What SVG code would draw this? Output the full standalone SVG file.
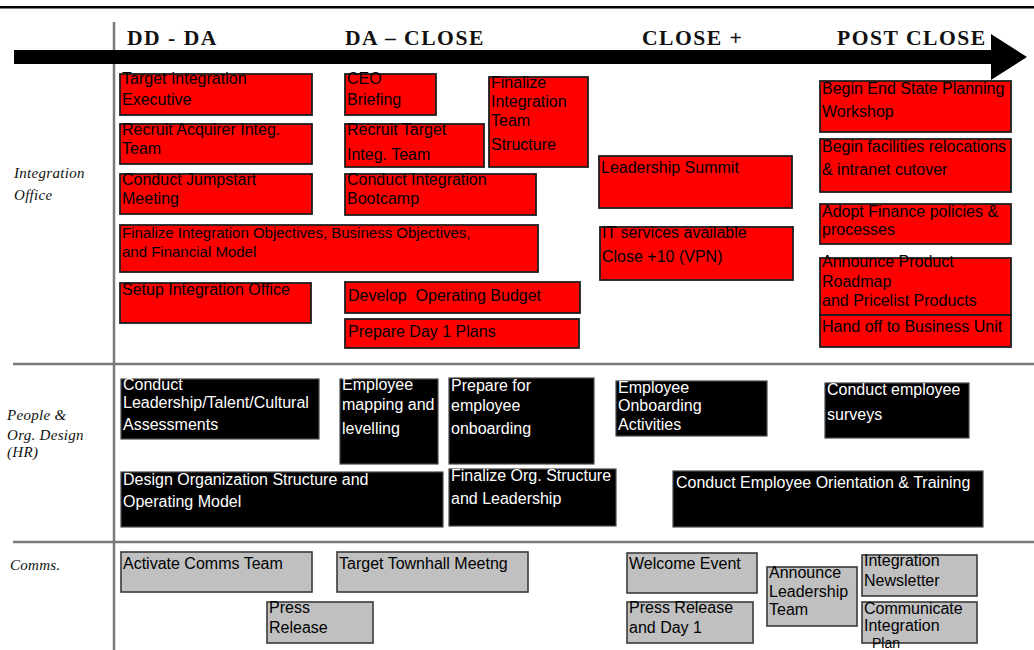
<svg xmlns="http://www.w3.org/2000/svg" width="1034" height="650" viewBox="0 0 1034 650">
  <style>
    .red { fill: #ff0000; stroke: #1e1e1e; stroke-width: 1.8; }
    .blk { fill: #000000; stroke: #4a4a4a; stroke-width: 1.2; }
    .gry { fill: #c0c0c0; stroke: #3a3a3a; stroke-width: 1.6; }
    .t { font-family: "Liberation Sans", Arial, sans-serif; font-size: 16px; fill: #000; white-space: pre; }
    .tw { font-family: "Liberation Sans", Arial, sans-serif; font-size: 16px; fill: #fff; white-space: pre; }
    .hdr { font-family: "Liberation Serif", "Times New Roman", serif; font-weight: bold; font-size: 21.6px; letter-spacing: 1.5px; fill: #111; }
    .lane { font-family: "Liberation Serif", "Times New Roman", serif; font-style: italic; font-size: 15px; letter-spacing: 0.3px; fill: #111; }
    .rule { stroke: #7a7a7a; stroke-width: 2.5; fill: none; }
  </style>

  <rect x="0" y="0" width="1034" height="650" fill="#ffffff"/>

  <!-- page rule under the heading -->
  <rect x="0" y="6" width="1034" height="2.5" fill="#000"/>

  <!-- swimlane grid -->
  <g id="grid">
    <line class="rule" x1="114" y1="22" x2="114" y2="650"/>
    <line class="rule" x1="13" y1="364" x2="1034" y2="364"/>
    <line class="rule" x1="13" y1="542" x2="1034" y2="542"/>
  </g>

  <!-- phase headings -->
  <g id="phases">
    <text class="hdr" x="127" y="45">DD - DA</text>
    <text class="hdr" x="345" y="45">DA – CLOSE</text>
    <text class="hdr" x="642" y="45">CLOSE +</text>
    <text class="hdr" x="837" y="45">POST CLOSE</text>
  </g>

  <!-- timeline arrow -->
  <g id="connectors">
    <rect x="14" y="50" width="978" height="14" fill="#000"/>
    <polygon points="991,34 1027,57 991,80" fill="#000"/>
  </g>

  <!-- lane labels -->
  <g id="lanes">
    <text class="lane" x="14" y="178">Integration</text>
    <text class="lane" x="14" y="200">Office</text>
    <text class="lane" x="7" y="420">People &amp;</text>
    <text class="lane" x="7" y="440">Org. Design</text>
    <text class="lane" x="7" y="457">(HR)</text>
    <text class="lane" x="10" y="570">Comms.</text>
  </g>

  <!-- Integration Office -->
  <g id="io-target-exec">
    <rect class="red" x="120" y="74" width="192" height="41"/>
    <text class="t" x="122" y="84">Target Integration</text>
    <text class="t" x="122" y="105">Executive</text>
  </g>
  <g id="io-ceo">
    <rect class="red" x="345" y="74" width="91" height="41"/>
    <text class="t" x="347" y="84">CEO</text>
    <text class="t" x="347" y="105">Briefing</text>
  </g>
  <g id="io-team-structure">
    <rect class="red" x="489" y="77" width="99" height="90"/>
    <text class="t" x="491" y="88">Finalize</text>
    <text class="t" x="491" y="107">Integration</text>
    <text class="t" x="491" y="126">Team</text>
    <text class="t" x="491" y="150">Structure</text>
  </g>
  <g id="io-recruit-acq">
    <rect class="red" x="120" y="124" width="192" height="40"/>
    <text class="t" x="122" y="135">Recruit Acquirer Integ.</text>
    <text class="t" x="122" y="154">Team</text>
  </g>
  <g id="io-recruit-tgt">
    <rect class="red" x="345" y="124" width="139" height="43"/>
    <text class="t" x="347" y="135">Recruit Target</text>
    <text class="t" x="347" y="160">Integ. Team</text>
  </g>
  <g id="io-jumpstart">
    <rect class="red" x="120" y="174" width="192" height="40"/>
    <text class="t" x="122" y="185">Conduct Jumpstart</text>
    <text class="t" x="122" y="204">Meeting</text>
  </g>
  <g id="io-bootcamp">
    <rect class="red" x="345" y="174" width="191" height="41"/>
    <text class="t" x="347" y="185">Conduct Integration</text>
    <text class="t" x="347" y="204">Bootcamp</text>
  </g>
  <g id="io-objectives">
    <rect class="red" x="120" y="225" width="418" height="47"/>
    <text class="t" x="122" y="238" style="font-size:15px">Finalize Integration Objectives, Business Objectives,</text>
    <text class="t" x="122" y="257" style="font-size:15px">and Financial Model</text>
  </g>
  <g id="io-setup">
    <rect class="red" x="120" y="283" width="191" height="40"/>
    <text class="t" x="122" y="295">Setup Integration Office</text>
  </g>
  <g id="io-budget">
    <rect class="red" x="345" y="282" width="235" height="31"/>
    <text class="t" x="348" y="301">Develop  Operating Budget</text>
  </g>
  <g id="io-day1">
    <rect class="red" x="345" y="319" width="234" height="29"/>
    <text class="t" x="348" y="337">Prepare Day 1 Plans</text>
  </g>
  <g id="io-summit">
    <rect class="red" x="599" y="156" width="193" height="52"/>
    <text class="t" x="601" y="173">Leadership Summit</text>
  </g>
  <g id="io-it">
    <rect class="red" x="600" y="227" width="193" height="53"/>
    <text class="t" x="602" y="238">IT services available</text>
    <text class="t" x="602" y="262">Close +10 (VPN)</text>
  </g>
  <g id="io-endstate">
    <rect class="red" x="820" y="81" width="191" height="51"/>
    <text class="t" x="822" y="94">Begin End State Planning</text>
    <text class="t" x="822" y="117">Workshop</text>
  </g>
  <g id="io-facilities">
    <rect class="red" x="820" y="139" width="191" height="53"/>
    <text class="t" x="822" y="152">Begin facilities relocations</text>
    <text class="t" x="822" y="175">&amp; intranet cutover</text>
  </g>
  <g id="io-finance">
    <rect class="red" x="820" y="204" width="191" height="40"/>
    <text class="t" x="822" y="217">Adopt Finance policies &amp;</text>
    <text class="t" x="822" y="235">processes</text>
  </g>
  <g id="io-roadmap">
    <rect class="red" x="820" y="258" width="191" height="57"/>
    <text class="t" x="822" y="267">Announce Product</text>
    <text class="t" x="822" y="287">Roadmap</text>
    <text class="t" x="822" y="306">and Pricelist Products</text>
  </g>
  <g id="io-handoff">
    <rect class="red" x="820" y="315" width="191" height="32"/>
    <text class="t" x="822" y="332">Hand off to Business Unit</text>
  </g>

  <!-- People & Org. Design (HR) -->
  <g id="hr-assess">
    <rect class="blk" x="121" y="379" width="198" height="60"/>
    <text class="tw" x="123" y="390">Conduct</text>
    <text class="tw" x="123" y="408">Leadership/Talent/Cultural</text>
    <text class="tw" x="123" y="430">Assessments</text>
  </g>
  <g id="hr-mapping">
    <rect class="blk" x="340" y="379" width="98" height="85"/>
    <text class="tw" x="342" y="390">Employee</text>
    <text class="tw" x="342" y="410">mapping and</text>
    <text class="tw" x="342" y="434">levelling</text>
  </g>
  <g id="hr-design">
    <rect class="blk" x="121" y="472" width="322" height="55"/>
    <text class="tw" x="123" y="485">Design Organization Structure and</text>
    <text class="tw" x="123" y="507">Operating Model</text>
  </g>
  <g id="hr-prepare">
    <rect class="blk" x="449" y="378" width="145" height="86"/>
    <text class="tw" x="451" y="391">Prepare for</text>
    <text class="tw" x="451" y="411">employee</text>
    <text class="tw" x="451" y="434">onboarding</text>
  </g>
  <g id="hr-onboarding">
    <rect class="blk" x="616" y="381" width="151" height="55"/>
    <text class="tw" x="618" y="393">Employee</text>
    <text class="tw" x="618" y="411">Onboarding</text>
    <text class="tw" x="618" y="430">Activities</text>
  </g>
  <g id="hr-surveys">
    <rect class="blk" x="825" y="383" width="144" height="55"/>
    <text class="tw" x="827" y="395">Conduct employee</text>
    <text class="tw" x="827" y="420">surveys</text>
  </g>
  <g id="hr-finalize-org">
    <rect class="blk" x="449" y="469" width="167" height="57"/>
    <text class="tw" x="451" y="481">Finalize Org. Structure</text>
    <text class="tw" x="451" y="504">and Leadership</text>
  </g>
  <g id="hr-orientation">
    <rect class="blk" x="673" y="471" width="310" height="56"/>
    <text class="tw" x="676" y="488">Conduct Employee Orientation &amp; Training</text>
  </g>

  <!-- Comms. -->
  <g id="cm-activate">
    <rect class="gry" x="121" y="552" width="191" height="40"/>
    <text class="t" x="123" y="569">Activate Comms Team</text>
  </g>
  <g id="cm-townhall">
    <rect class="gry" x="337" y="552" width="191" height="40"/>
    <text class="t" x="339" y="569">Target Townhall Meetng</text>
  </g>
  <g id="cm-press">
    <rect class="gry" x="267" y="602" width="106" height="41"/>
    <text class="t" x="269" y="613">Press</text>
    <text class="t" x="269" y="633">Release</text>
  </g>
  <g id="cm-welcome">
    <rect class="gry" x="627" y="553" width="130" height="40"/>
    <text class="t" x="629" y="569">Welcome Event</text>
  </g>
  <g id="cm-press-day1">
    <rect class="gry" x="627" y="602" width="126" height="41"/>
    <text class="t" x="629" y="613">Press Release</text>
    <text class="t" x="629" y="633">and Day 1</text>
  </g>
  <g id="cm-announce">
    <rect class="gry" x="767" y="567" width="90" height="59"/>
    <text class="t" x="769" y="578">Announce</text>
    <text class="t" x="769" y="597">Leadership</text>
    <text class="t" x="769" y="615">Team</text>
  </g>
  <g id="cm-newsletter">
    <rect class="gry" x="862" y="555" width="115" height="41"/>
    <text class="t" x="864" y="566">Integration</text>
    <text class="t" x="864" y="586">Newsletter</text>
  </g>
  <g id="cm-communicate">
    <rect class="gry" x="862" y="602" width="115" height="41"/>
    <text class="t" x="864" y="614">Communicate</text>
    <text class="t" x="864" y="631">Integration</text>
    <text class="t" x="872" y="648" style="font-size:14px">Plan</text>
  </g>
</svg>
